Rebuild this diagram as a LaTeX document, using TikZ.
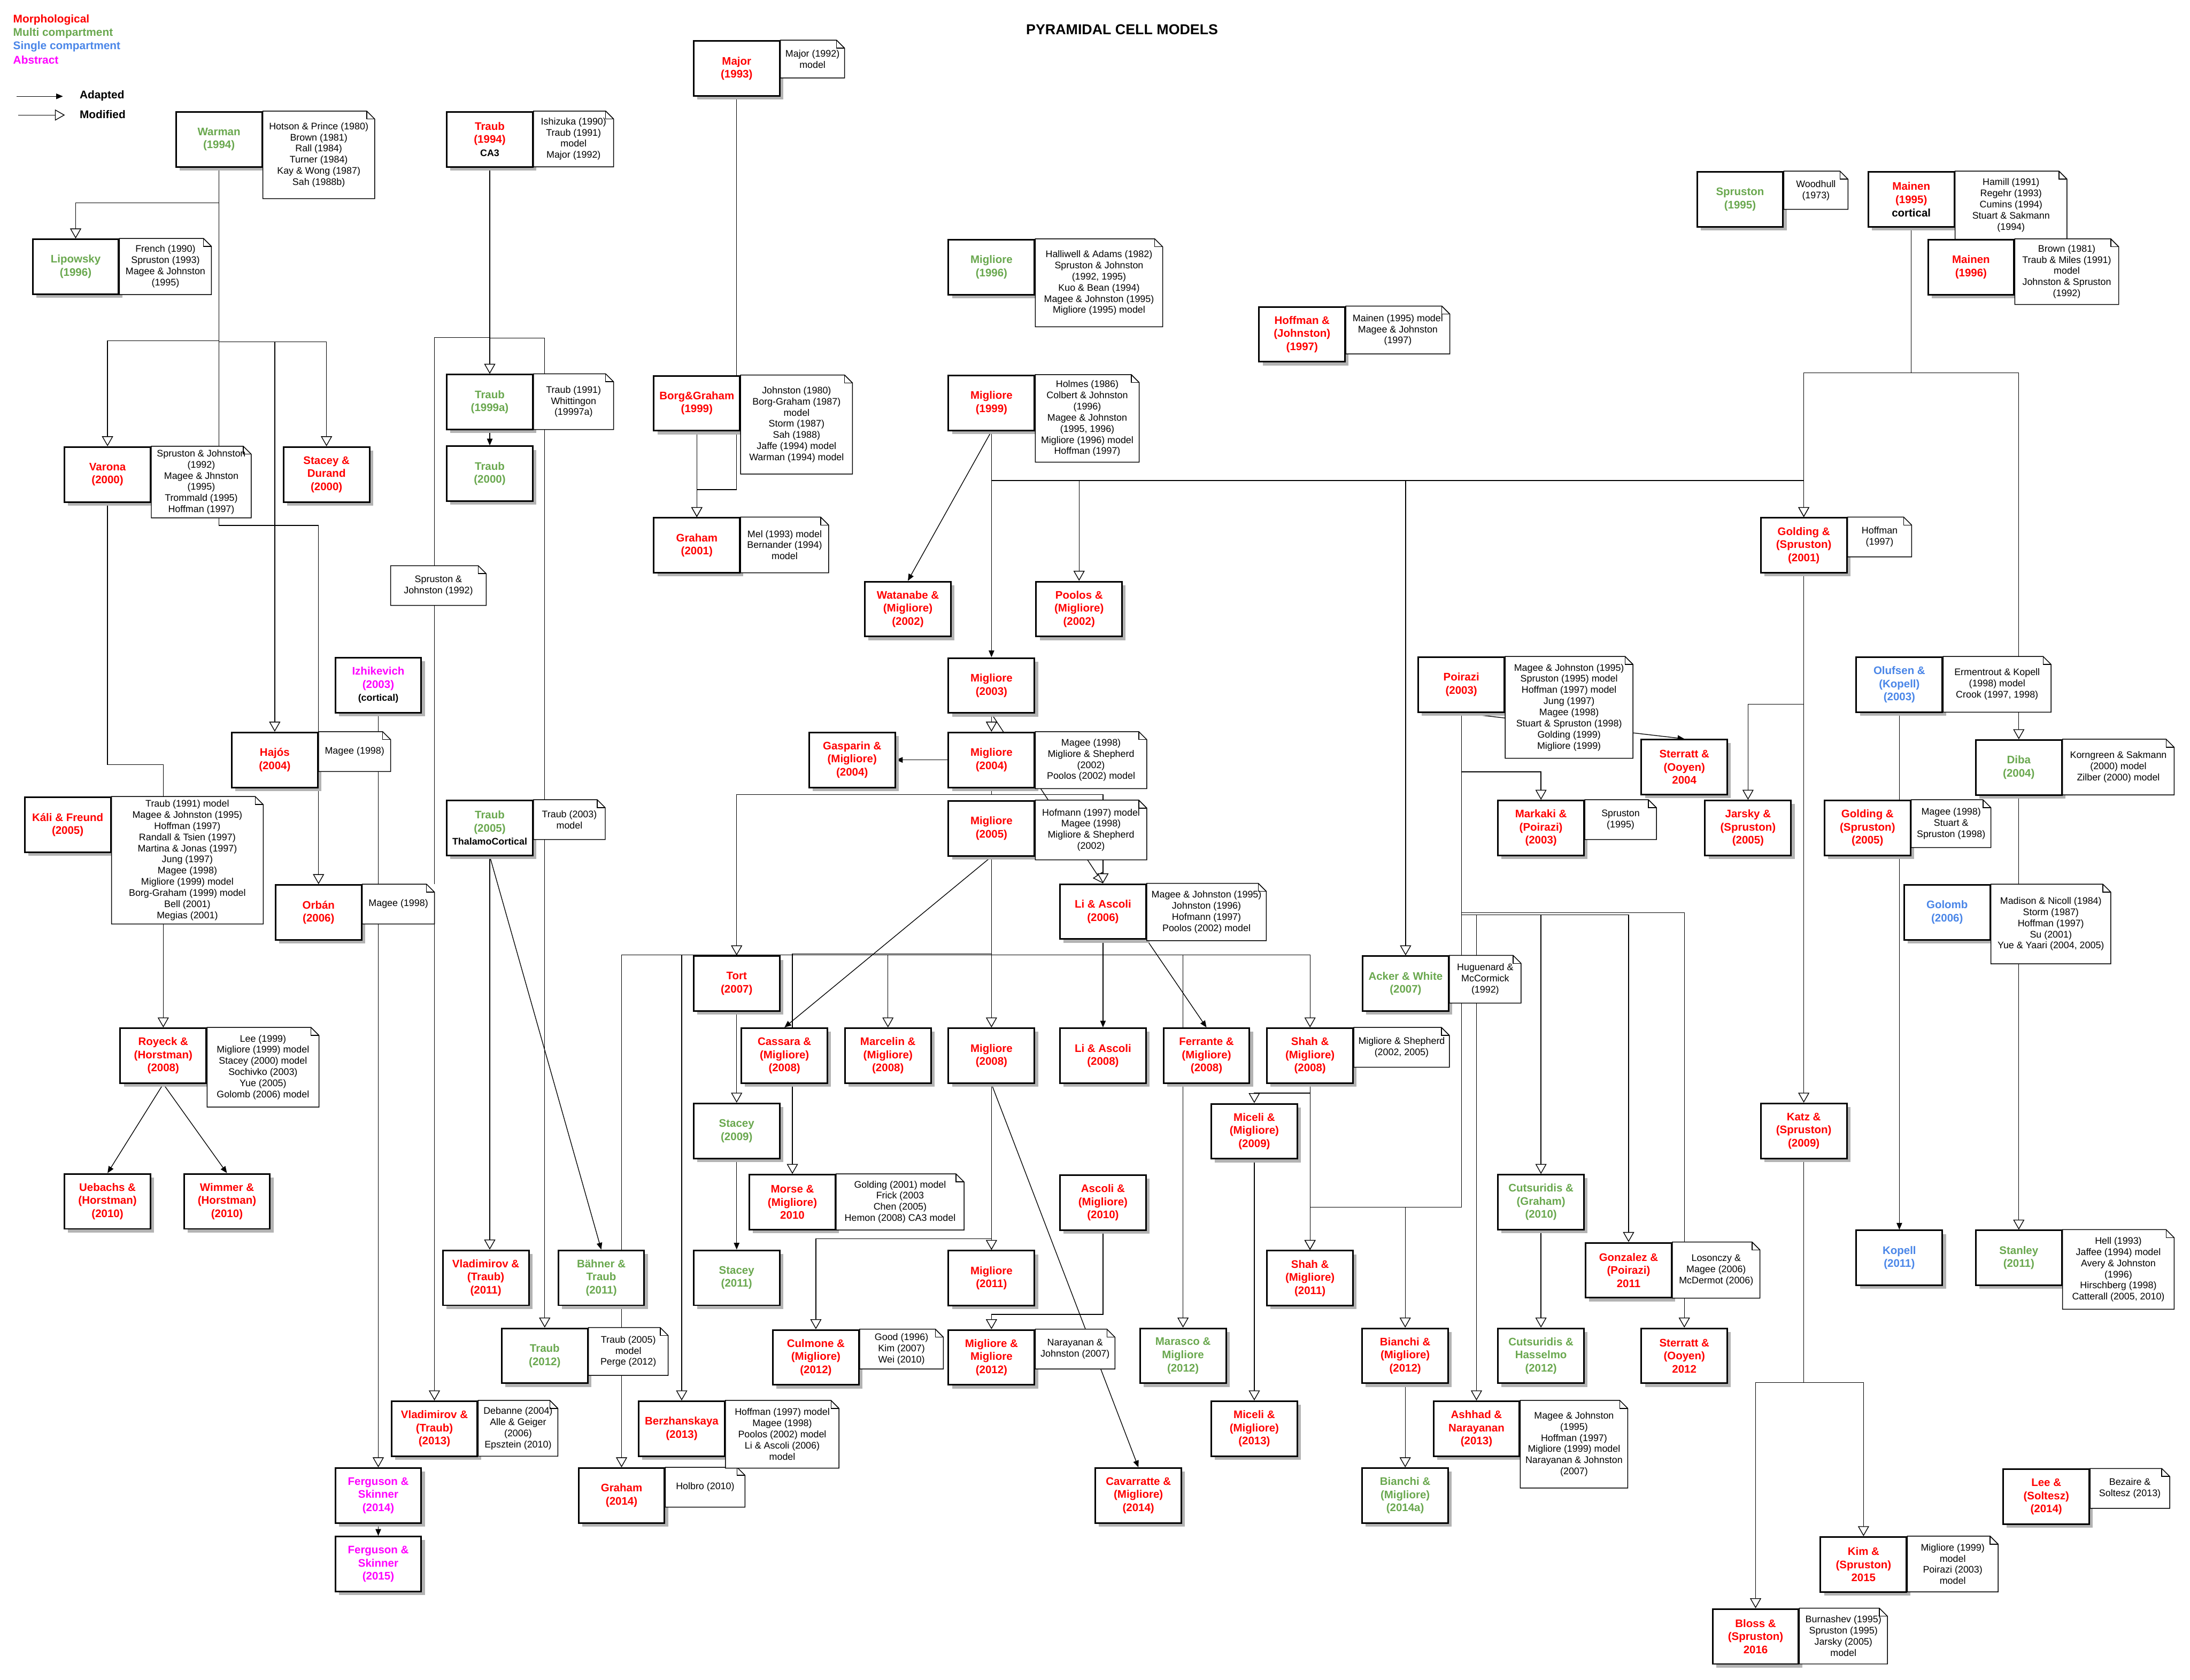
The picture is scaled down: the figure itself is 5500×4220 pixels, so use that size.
\documentclass[tikz,border=0pt]{standalone}
\usepackage{fontspec}
\setmainfont{Liberation Sans}
\usetikzlibrary{arrows.meta,shadows}
\definecolor{mred}{HTML}{FF0000}
\definecolor{mgreen}{HTML}{6AA84F}
\definecolor{mblue}{HTML}{4A86E8}
\definecolor{mmag}{HTML}{FF00FF}
\definecolor{shgray}{HTML}{B3B3B3}
\pgfdeclarelayer{bg}
\pgfsetlayers{bg,main}
\newcommand{\boxfont}{\fontsize{27.5}{33}\selectfont\bfseries}
\newcommand{\notefont}{\fontsize{24}{28}\selectfont}
\newcommand{\subfont}{\fontsize{24}{28}\selectfont\bfseries\color{black}}
\newcommand{\legfont}{\fontsize{28}{33}\selectfont\bfseries}
\newcommand{\titlefont}{\fontsize{36}{42}\selectfont\bfseries}
\tikzset{
  mbox/.style={draw=black, line width=4pt, fill=white, minimum width=216pt, minimum height=138pt,
    inner sep=1pt, align=center, font=\boxfont,
    general shadow={fill=shgray, shadow xshift=9pt, shadow yshift=-9pt}},
  rbox/.style={mbox, text=mred},
  gbox/.style={mbox, text=mgreen},
  bbox/.style={mbox, text=mblue},
  pbox/.style={mbox, text=mmag},
  notebox/.style={fill=white, inner sep=0pt, outer sep=0pt, align=center, font=\notefont},
  noteline/.style={draw=black, line width=2pt, line join=miter},
  conn/.style={draw=black, line width=1.8pt},
  adapt/.style={conn, -{Triangle[length=17pt,width=14pt]}},
  modif/.style={conn, -{Triangle[open,length=25pt,width=28pt,fill=white]}},
  legtext/.style={anchor=west, inner sep=0pt, font=\legfont},
}
\newcommand{\notedraw}[1]{%
  \draw[noteline] (#1.north west) -- ([xshift=-20pt]#1.north east) -- ([yshift=-20pt]#1.north east) -- (#1.south east) -- (#1.south west) -- cycle;
  \draw[noteline] ([xshift=-20pt]#1.north east) -- ([xshift=-20pt,yshift=-20pt]#1.north east) -- ([yshift=-20pt]#1.north east);}
\newcommand{\bnote}[5]{%
  \node[notebox, minimum width=#3pt, minimum height=#4pt, anchor=north west] (#1) at (#2.north east) {#5};
  \notedraw{#1}}
\begin{document}
\begin{tikzpicture}[x=1pt,y=-1pt]
\useasboundingbox (0,0) rectangle (5500,4220);
% legend and title
\node[legtext, text=mred] (lg1) at (33,50) {Morphological};
\node[legtext, text=mgreen] (lg2) at (33,84) {Multi compartment};
\node[legtext, text=mblue] (lg3) at (33,117) {Single compartment};
\node[legtext, text=mmag] (lg4) at (33,150) {Abstract};
\coordinate (la1) at (42,242); \coordinate (la2) at (158,242);
\coordinate (lm1) at (46,289); \coordinate (lm2) at (163,289);
\node[legtext] (lgadapt) at (200,240) {Adapted};
\node[legtext] (lgmod) at (200,287) {Modified};
\node[font=\titlefont] (title) at (2818,74) {PYRAMIDAL CELL MODELS};
% model boxes
\node[gbox] (warman) at (550,350) {Warman\\(1994)};
\node[gbox] (lipowsky) at (190,670) {Lipowsky\\(1996)};
\node[rbox] (traub94) at (1230,350) {Traub\\(1994)\\{\subfont CA3}};
\node[rbox] (major) at (1850,172) {Major\\(1993)};
\node[gbox] (spruston95) at (4370,501) {Spruston\\(1995)};
\node[rbox] (mainen95) at (4800,501) {Mainen\\(1995)\\{\color{black}cortical}};
\node[rbox] (mainen96) at (4950,671) {Mainen\\(1996)};
\node[gbox] (migliore96) at (2490,671) {Migliore\\(1996)};
\node[rbox] (hoffman97) at (3270,840) {Hoffman \&\\(Johnston)\\(1997)};
\node[gbox] (traub99a) at (1230,1010) {Traub\\(1999a)};
\node[rbox] (borggraham) at (1750,1013) {Borg\&Graham\\(1999)};
\node[rbox] (migliore99) at (2490,1012) {Migliore\\(1999)};
\node[rbox] (varona) at (270,1192) {Varona\\(2000)};
\node[rbox] (staceydurand) at (820,1192) {Stacey \&\\Durand\\(2000)};
\node[gbox] (traub00) at (1230,1190) {Traub\\(2000)};
\node[rbox] (graham01) at (1750,1370) {Graham\\(2001)};
\node[rbox] (golding01) at (4530,1370) {Golding \&\\(Spruston)\\(2001)};
\node[rbox] (watanabe) at (2280,1530) {Watanabe \&\\(Migliore)\\(2002)};
\node[rbox] (poolos) at (2710,1530) {Poolos \&\\(Migliore)\\(2002)};
\node[pbox] (izhikevich) at (950,1721) {Izhikevich\\(2003)\\{\subfont (cortical)}};
\node[rbox] (migliore03) at (2490,1722) {Migliore\\(2003)};
\node[rbox] (poirazi) at (3670,1720) {Poirazi\\(2003)};
\node[bbox] (olufsen) at (4770,1720) {Olufsen \&\\(Kopell)\\(2003)};
\node[rbox] (hajos) at (690,1909) {Hajós\\(2004)};
\node[rbox] (gasparin) at (2140,1909) {Gasparin \&\\(Migliore)\\(2004)};
\node[rbox] (migliore04) at (2490,1909) {Migliore\\(2004)};
\node[rbox] (sterratt04) at (4230,1927) {Sterratt \&\\(Ooyen)\\2004};
\node[gbox] (diba) at (5070,1928) {Diba\\(2004)};
\node[rbox] (kali) at (170,2072) {Káli \& Freund\\(2005)};
\node[gbox] (traub05) at (1230,2080) {Traub\\(2005)\\{\subfont ThalamoCortical}};
\node[rbox] (migliore05) at (2490,2081) {Migliore\\(2005)};
\node[rbox] (markaki) at (3870,2080) {Markaki \&\\(Poirazi)\\(2003)};
\node[rbox] (jarsky) at (4390,2080) {Jarsky \&\\(Spruston)\\(2005)};
\node[rbox] (golding05) at (4690,2080) {Golding \&\\(Spruston)\\(2005)};
\node[rbox] (orban) at (800,2292) {Orbán\\(2006)};
\node[rbox] (liascoli06) at (2770,2290) {Li \& Ascoli\\(2006)};
\node[bbox] (golomb) at (4890,2292) {Golomb\\(2006)};
\node[rbox] (tort) at (1850,2471) {Tort\\(2007)};
\node[gbox] (acker) at (3530,2471) {Acker \& White\\(2007)};
\node[rbox] (royeck) at (410,2652) {Royeck \&\\(Horstman)\\(2008)};
\node[rbox] (cassara) at (1970,2652) {Cassara \&\\(Migliore)\\(2008)};
\node[rbox] (marcelin) at (2230,2652) {Marcelin \&\\(Migliore)\\(2008)};
\node[rbox] (migliore08) at (2490,2652) {Migliore\\(2008)};
\node[rbox] (liascoli08) at (2770,2652) {Li \& Ascoli\\(2008)};
\node[rbox] (ferrante) at (3030,2652) {Ferrante \&\\(Migliore)\\(2008)};
\node[rbox] (shah08) at (3290,2652) {Shah \&\\(Migliore)\\(2008)};
\node[gbox] (stacey09) at (1850,2841) {Stacey\\(2009)};
\node[rbox] (miceli09) at (3150,2842) {Miceli \&\\(Migliore)\\(2009)};
\node[rbox] (katz) at (4530,2841) {Katz \&\\(Spruston)\\(2009)};
\node[rbox] (uebachs) at (270,3018) {Uebachs \&\\(Horstman)\\(2010)};
\node[rbox] (wimmer) at (570,3018) {Wimmer \&\\(Horstman)\\(2010)};
\node[rbox] (morse) at (1990,3020) {Morse \&\\(Migliore)\\2010};
\node[rbox] (ascoli10) at (2770,3021) {Ascoli \&\\(Migliore)\\(2010)};
\node[gbox] (cutsuridis10) at (3870,3020) {Cutsuridis \&\\(Graham)\\(2010)};
\node[bbox] (kopell) at (4770,3160) {Kopell\\(2011)};
\node[gbox] (stanley) at (5070,3160) {Stanley\\(2011)};
\node[rbox] (gonzalez) at (4090,3191) {Gonzalez \&\\(Poirazi)\\2011};
\node[rbox] (vladimirov11) at (1220,3210) {Vladimirov \&\\(Traub)\\(2011)};
\node[gbox] (bahner) at (1510,3210) {Bähner \&\\Traub\\(2011)};
\node[gbox] (stacey11) at (1850,3210) {Stacey\\(2011)};
\node[rbox] (migliore11) at (2490,3211) {Migliore\\(2011)};
\node[rbox] (shah11) at (3290,3211) {Shah \&\\(Migliore)\\(2011)};
\node[gbox] (traub12) at (1368,3406) {Traub\\(2012)};
\node[rbox] (culmone) at (2049,3410) {Culmone \&\\(Migliore)\\(2012)};
\node[rbox] (migmig12) at (2490,3410) {Migliore \&\\Migliore\\(2012)};
\node[gbox] (marasco) at (2971,3406) {Marasco \&\\Migliore\\(2012)};
\node[rbox] (bianchi12) at (3529,3406) {Bianchi \&\\(Migliore)\\(2012)};
\node[gbox] (cutsuridis12) at (3870,3406) {Cutsuridis \&\\Hasselmo\\(2012)};
\node[rbox] (sterratt12) at (4230,3406) {Sterratt \&\\(Ooyen)\\2012};
\node[rbox] (vladimirov13) at (1091,3589) {Vladimirov \&\\(Traub)\\(2013)};
\node[rbox] (berzhanskaya) at (1712,3589) {Berzhanskaya\\(2013)};
\node[rbox] (miceli13) at (3150,3589) {Miceli \&\\(Migliore)\\(2013)};
\node[rbox] (ashhad) at (3708,3589) {Ashhad \&\\Narayanan\\(2013)};
\node[pbox] (ferguson14) at (950,3757) {Ferguson \&\\Skinner\\(2014)};
\node[rbox] (graham14) at (1561,3757) {Graham\\(2014)};
\node[rbox] (cavarratte) at (2859,3757) {Cavarratte \&\\(Migliore)\\(2014)};
\node[gbox] (bianchi14) at (3529,3757) {Bianchi \&\\(Migliore)\\(2014a)};
\node[rbox] (lee) at (5139,3760) {Lee \&\\(Soltesz)\\(2014)};
\node[pbox] (ferguson15) at (950,3929) {Ferguson \&\\Skinner\\(2015)};
\node[rbox] (kim) at (4680,3930) {Kim \&\\(Spruston)\\2015};
\node[rbox] (bloss) at (4409,4111) {Bloss \&\\(Spruston)\\2016};
% notes
\bnote{nwarman}{warman}{281}{220}{Hotson \& Prince (1980)\\Brown (1981)\\Rall (1984)\\Turner (1984)\\Kay \& Wong (1987)\\Sah (1988b)}
\bnote{nlipowsky}{lipowsky}{231}{141}{French (1990)\\Spruston (1993)\\Magee \& Johnston\\(1995)}
\bnote{ntraub94}{traub94}{201}{140}{Ishizuka (1990)\\Traub (1991)\\model\\Major (1992)}
\bnote{nmajor}{major}{161}{95}{Major (1992)\\model}
\bnote{nborg}{borggraham}{281}{249}{Johnston (1980)\\Borg-Graham (1987)\\model\\Storm (1987)\\Sah (1988)\\Jaffe (1994) model\\Warman (1994) model}
\bnote{ntraub99}{traub99a}{201}{140}{Traub (1991)\\Whittingon\\(19997a)}
\bnote{ngraham01}{graham01}{221}{140}{Mel (1993) model\\Bernander (1994)\\model}
\bnote{nmig96}{migliore96}{320}{221}{Halliwell \& Adams (1982)\\Spruston \& Johnston\\(1992, 1995)\\Kuo \& Bean (1994)\\Magee \& Johnston (1995)\\Migliore (1995) model}
\bnote{nmig99}{migliore99}{261}{220}{Holmes (1986)\\Colbert \& Johnston\\(1996)\\Magee \& Johnston\\(1995, 1996)\\Migliore (1996) model\\Hoffman (1997)}
\bnote{nhoff}{hoffman97}{261}{120}{Mainen (1995) model\\Magee \& Johnston\\(1997)}
\bnote{nspr95}{spruston95}{161}{96}{Woodhull\\(1973)}
\bnote{nmain95}{mainen95}{281}{171}{Hamill (1991)\\Regehr (1993)\\Cumins (1994)\\Stuart \& Sakmann\\(1994)}
\bnote{nmain96}{mainen96}{261}{165}{Brown (1981)\\Traub \& Miles (1991)\\model\\Johnston \& Spruston\\(1992)}
\bnote{nvarona}{varona}{251}{180}{Spruston \& Johnston\\(1992)\\Magee \& Jhnston\\(1995)\\Trommald (1995)\\Hoffman (1997)}
\bnote{ngold01}{golding01}{161}{100}{Hoffman\\(1997)}
\bnote{nhajos}{hajos}{181}{100}{Magee (1998)}
\bnote{nmig04}{migliore04}{280}{143}{Magee (1998)\\Migliore \& Shepherd\\(2002)\\Poolos (2002) model}
\bnote{nmig05}{migliore05}{280}{150}{Hofmann (1997) model\\Magee (1998)\\Migliore \& Shepherd\\(2002)}
\bnote{npoirazi}{poirazi}{321}{256}{Magee \& Johnston (1995)\\Spruston (1995) model\\Hoffman (1997) model\\Jung (1997)\\Magee (1998)\\Stuart \& Spruston (1998)\\Golding (1999)\\Migliore (1999)}
\bnote{nolufsen}{olufsen}{271}{140}{Ermentrout \& Kopell\\(1998) model\\Crook (1997, 1998)}
\bnote{ndiba}{diba}{280}{140}{Korngreen \& Sakmann\\(2000) model\\Zilber (2000) model}
\bnote{nkali}{kali}{381}{320}{Traub (1991) model\\Magee \& Johnston (1995)\\Hoffman (1997)\\Randall \& Tsien (1997)\\Martina \& Jonas (1997)\\Jung (1997)\\Magee (1998)\\Migliore (1999) model\\Borg-Graham (1999) model\\Bell (2001)\\Megias (2001)}
\bnote{ntraub05}{traub05}{180}{100}{Traub (2003)\\model}
\bnote{nmarkaki}{markaki}{180}{100}{Spruston\\(1995)}
\bnote{ngold05}{golding05}{200}{120}{Magee (1998)\\Stuart \&\\Spruston (1998)}
\bnote{norban}{orban}{181}{100}{Magee (1998)}
\bnote{nli06}{liascoli06}{300}{144}{Magee \& Johnston (1995)\\Johnston (1996)\\Hofmann (1997)\\Poolos (2002) model}
\bnote{ngolomb}{golomb}{301}{200}{Madison \& Nicoll (1984)\\Storm (1987)\\Hoffman (1997)\\Su (2001)\\Yue \& Yaari (2004, 2005)}
\bnote{nacker}{acker}{180}{120}{Huguenard \&\\McCormick\\(1992)}
\bnote{nroyeck}{royeck}{281}{200}{Lee (1999)\\Migliore (1999) model\\Stacey (2000) model\\Sochivko (2003)\\Yue (2005)\\Golomb (2006) model}
\bnote{nshah08}{shah08}{240}{100}{Migliore \& Shepherd\\(2002, 2005)}
\bnote{nmorse}{morse}{321}{141}{Golding (2001) model\\Frick (2003\\Chen (2005)\\Hemon (2008) CA3 model}
\bnote{ngonz}{gonzalez}{220}{141}{Losonczy \&\\Magee (2006)\\McDermot (2006)}
\bnote{nstanley}{stanley}{280}{200}{Hell (1993)\\Jaffee (1994) model\\Avery \& Johnston\\(1996)\\Hirschberg (1998)\\Catterall (2005, 2010)}
\bnote{ntraub12}{traub12}{200}{120}{Traub (2005)\\model\\Perge (2012)}
\bnote{nvlad13}{vladimirov13}{200}{140}{Debanne (2004)\\Alle \& Geiger\\(2006)\\Epsztein (2010)}
\bnote{ngraham14}{graham14}{200}{100}{Holbro (2010)}
\bnote{nberz}{berzhanskaya}{285}{170}{Hoffman (1997) model\\Magee (1998)\\Poolos (2002) model\\Li \& Ascoli (2006)\\model}
\bnote{nculmone}{culmone}{210}{100}{Good (1996)\\Kim (2007)\\Wei (2010)}
\bnote{nmigmig}{migmig12}{200}{100}{Narayanan \&\\Johnston (2007)}
\bnote{nashhad}{ashhad}{270}{220}{Magee \& Johnston\\(1995)\\Hoffman (1997)\\Migliore (1999) model\\Narayanan \& Johnston\\(2007)}
\bnote{nlee}{lee}{200}{100}{Bezaire \&\\Soltesz (2013)}
\bnote{nkim}{kim}{228}{140}{Migliore (1999)\\model\\Poirazi (2003)\\model}
\bnote{nbloss}{bloss}{221}{140}{Burnashev (1995)\\Spruston (1995)\\Jarsky (2005)\\model}
\node[notebox, minimum width=240pt, minimum height=100pt] (sj92) at (1101,1471) {Spruston \&\\Johnston (1992)};
\notedraw{sj92}
% connectors
\begin{pgfonlayer}{bg}
\draw[adapt] (la1) -- (la2);
\draw[modif] (lm1) -- (lm2);
\draw[modif] (warman.south) -- ++(0,89) -| (lipowsky.north);
\draw[modif] (warman.south) -- ++(0,435) -| (varona.north);
\draw[modif] (warman.south) -- ++(0,438) -| (hajos.north);
\draw[modif] (warman.south) -- ++(0,438) -| (staceydurand.north);
\draw[modif] (warman.south) -- ++(0,899) -| (orban.north);
\draw[modif] (varona.south) -- ++(0,658) -| (royeck.north);
\draw[adapt] (royeck.south) -- (uebachs.north);
\draw[adapt] (royeck.south) -- (wimmer.north);
\draw[modif] (traub94.south) -- (traub99a.north);
\draw[modif] (traub94.south) -- ++(0,427) -| (vladimirov13.north);
\draw[modif] (traub94.south) -- ++(0,428) -| (traub12.north);
\draw[adapt] (traub99a.south) -- (traub00.north);
\draw[modif] (traub05.south) -- (traub05.south |- vladimirov11.north);
\draw[adapt] (traub05.south) -- (bahner.north);
\draw[modif] (izhikevich.south) -- (ferguson14.north);
\draw[adapt] (ferguson14.south) -- (ferguson15.north);
\draw[modif] (major.south) -- ++(0,987) -| (graham01.north);
\draw[modif] (borggraham.south) -- (graham01.north);
\draw[adapt] (migliore99.south) -- (watanabe.north);
\draw[adapt] (migliore99.south) -- (migliore03.north);
\draw[modif] (migliore99.south) -- ++(0,124) -| (poolos.north);
\draw[modif] (migliore99.south) -- ++(0,124) -| (acker.north);
\draw[modif] (migliore99.south) -- ++(0,124) -| (golding01.north);
\draw[modif] (mainen95.south) -- ++(0,365) -| (golding01.north);
\draw[modif] (mainen95.south) -- ++(0,365) -| (diba.north);
\draw[modif] (migliore03.south) -- (migliore04.north);
\draw[modif] (migliore03.south) -- (liascoli06.north);
\draw[adapt] (migliore04.west) -- (gasparin.east);
\draw[modif] (migliore04.south) -- ++(0,16) -| (tort.north);
\draw[modif] (migliore04.south) -- ++(0,16) -| (liascoli06.north);
\draw[modif] (migliore05.south) -- (migliore08.north);
\draw[adapt] (migliore05.south) -- (cassara.north);
\draw[modif] (migliore05.south) -- ++(0,244) -| (morse.north);
\draw[modif] (liascoli06.south) -- ++(0,38) -| (graham14.north);
\draw[modif] (liascoli06.south) -- ++(0,38) -| (berzhanskaya.north);
\draw[modif] (liascoli06.south) -- ++(0,38) -| (marcelin.north);
\draw[modif] (liascoli06.south) -- ++(0,38) -| (marasco.north);
\draw[modif] (liascoli06.south) -- ++(0,38) -| (shah08.north);
\draw[adapt] (liascoli06.south) -- (liascoli08.north);
\draw[adapt] (liascoli06.south east) -- (ferrante.north);
\draw[modif] (tort.south) -- (stacey09.north);
\draw[adapt] (stacey09.south) -- (stacey11.north);
\draw[modif] (migliore08.south) -- (migliore11.north);
\draw[modif] (migliore08.south) -- ++(0,389) -| (culmone.north);
\draw[adapt] (migliore08.south) -- (cavarratte.north);
\draw[modif] (ascoli10.south) -- ++(0,210) -| (migmig12.north);
\draw[modif] (shah08.south) -- ++(0,23) -| (miceli09.north);
\draw[modif] (shah08.south) -- (shah11.north);
\draw[modif] (miceli09.south) -- (miceli13.north);
\draw[modif] (poirazi.south) -- ++(0,148) -| (markaki.north);
\draw[adapt] (poirazi.south) -- (sterratt04.north);
\draw[modif] (poirazi.south) -- ++(0,1242) -| (shah11.north);
\draw[modif] (poirazi.south) -- ++(0,1242) -| (bianchi12.north);
\draw[modif] (poirazi.south) -- ++(0,507) -| (ashhad.north);
\draw[modif] (poirazi.south) -- ++(0,507) -| (cutsuridis10.north);
\draw[modif] (poirazi.south) -- ++(0,507) -| (gonzalez.north);
\draw[modif] (poirazi.south) -- ++(0,502) -| (sterratt12.north);
\draw[modif] (cutsuridis10.south) -- (cutsuridis12.north);
\draw[modif] (bianchi12.south) -- (bianchi14.north);
\draw[modif] (golding01.south) -- ++(0,328) -| (jarsky.north);
\draw[modif] (golding01.south) -- (katz.north);
\draw[modif] (katz.south) -- ++(0,561) -| (kim.north);
\draw[modif] (katz.south) -- ++(0,561) -| (bloss.north);
\draw[adapt] (olufsen.south) -- (kopell.north);
\draw[modif] (diba.south) -- (stanley.north);
\end{pgfonlayer}
\end{tikzpicture}
\end{document}
